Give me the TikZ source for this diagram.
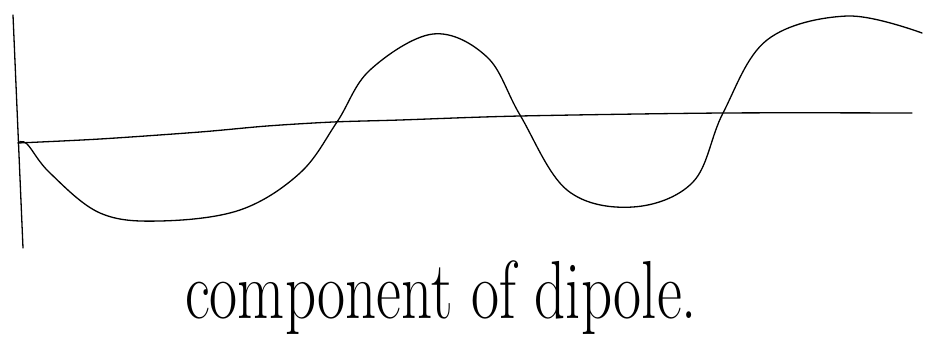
\documentclass[tikz,border=0pt]{standalone}
\usepackage{fontspec}
\begin{document}
\begin{tikzpicture}[x=1pt,y=-1pt,
  ink/.style={line width=1.3pt, line cap=round, line join=round, black},
  label/.style={inner sep=0pt, anchor=base west, font=\fontsize{61}{66}\selectfont, yscale=1.35}]
\useasboundingbox (0,0) rectangle (947,359);
\fill[white] (0,0) rectangle (947,359);
% vertical axis
\coordinate (vtop) at (13,15);
\coordinate (vbot) at (23,248);
\draw[ink] (vtop) -- (vbot);
% horizontal base line
\draw[ink] plot[smooth, tension=0.5] coordinates {(18,143) (100,139) (200,132) (267,126) (333,122) (400,120) (520,116) (723,113) (912,113)};
% wave
\draw[ink] plot[smooth, tension=0.6] coordinates {(18,143) (27,144) (50,173) (100,213) (160,221) (240,210) (300,173) (337,122) (370,70) (433,34) (487,57) (520,115) (567,190) (633,207) (693,182) (723,113) (767,40) (847,16) (922,33)};
% caption
\node[label] (cap) at (185,318) {component of dipole.};
\end{tikzpicture}
\end{document}
